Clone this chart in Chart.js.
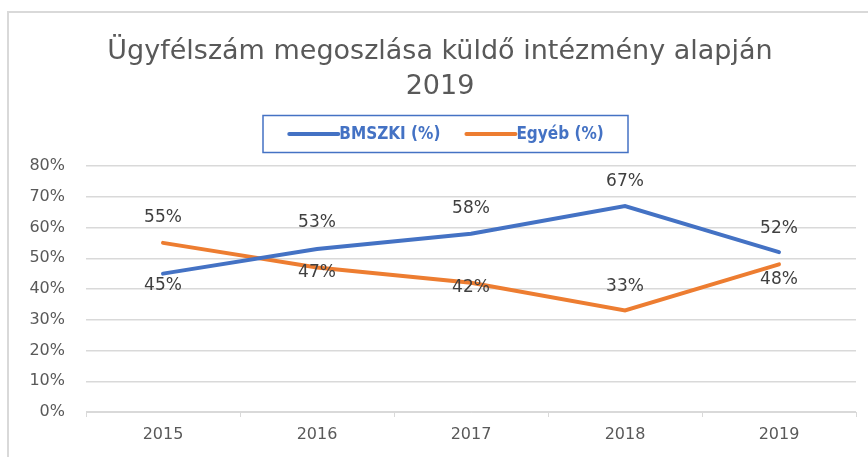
<!DOCTYPE html>
<html>
<head>
<meta charset="utf-8">
<script src="https://cdn.jsdelivr.net/npm/chart.js@4"></script>
<style>
  html, body { margin: 0; padding: 0; background: #fff; }
  #wrap { width: 868px; height: 457px; }
</style>
</head>
<body>
<div id="wrap"><canvas id="chart" width="868" height="457"></canvas></div>
<script>
const years = ['2015', '2016', '2017', '2018', '2019'];
const bmszki = [45, 53, 58, 67, 52];
const egyeb = [55, 47, 42, 33, 48];
const titleLines = ['Ügyfélszám megoszlása küldő intézmény alapján', '2019'];

const blue = '#4472c4';
const orange = '#ed7d31';
const grid = '#d9d9d9';

// frame round the chart, like the excel chart area
const framePlugin = {
    id: 'frame',
    beforeDraw(chart) {
        const ctx = chart.ctx;
        ctx.save();
        ctx.strokeStyle = grid;
        ctx.lineWidth = 2;
        ctx.beginPath();
        ctx.moveTo(8, chart.height);
        ctx.lineTo(8, 12);
        ctx.lineTo(chart.width, 12);
        ctx.stroke();
        ctx.restore();
    }
};

// boxed legend below the title
const boxLegend = {
    id: 'boxLegend',
    afterDraw(chart) {
        const ctx = chart.ctx;
        const box = { left: 263, top: 115.5, right: 628, bottom: 152.5 };
        ctx.save();
        ctx.strokeStyle = blue;
        ctx.lineWidth = 1.5;
        ctx.strokeRect(box.left, box.top, box.right - box.left, box.bottom - box.top);

        ctx.font = 'bold 17px "DejaVu Sans Condensed", "DejaVu Sans"';
        const lineLen = 52, gap = 24;
        const items = chart.data.datasets.map(ds => ({
            label: ds.label, color: ds.borderColor, w: ctx.measureText(ds.label).width
        }));
        let total = 0;
        items.forEach((it, i) => { total += lineLen + it.w + (i ? gap : 0); });
        let x = (box.left + box.right) / 2 - total / 2;
        const y = (box.top + box.bottom) / 2;
        items.forEach(it => {
            ctx.strokeStyle = it.color;
            ctx.lineWidth = 4;
            ctx.lineCap = 'round';
            ctx.beginPath();
            ctx.moveTo(x + 2, y);
            ctx.lineTo(x + lineLen - 1, y);
            ctx.stroke();
            ctx.fillStyle = blue;
            ctx.textAlign = 'left';
            ctx.textBaseline = 'middle';
            ctx.fillText(it.label, x + lineLen, y + 1);
            x += lineLen + it.w + gap;
        });
        ctx.restore();
    }
};

// value labels next to each point
const pointLabels = {
    id: 'pointLabels',
    afterDatasetsDraw(chart) {
        const ctx = chart.ctx;
        ctx.save();
        ctx.font = '17px "DejaVu Sans"';
        ctx.fillStyle = '#404040';
        ctx.textAlign = 'center';
        ctx.textBaseline = 'middle';
        chart.data.datasets.forEach((ds, i) => {
            chart.getDatasetMeta(i).data.forEach((pt, j) => {
                ctx.fillText(ds.data[j] + '%', pt.x, pt.y + ds.labelOffset[j]);
            });
        });
        ctx.restore();
    }
};

new Chart(document.getElementById('chart'), {
    type: 'line',
    data: {
        labels: years,
        datasets: [{
            label: 'BMSZKI (%)',
            data: bmszki,
            borderColor: blue,
            backgroundColor: blue,
            borderWidth: 4,
            pointRadius: 0,
            borderCapStyle: 'round',
            labelOffset: [12, -26, -25, -24, -24]
        }, {
            label: 'Egyéb (%)',
            data: egyeb,
            borderColor: orange,
            backgroundColor: orange,
            borderWidth: 4,
            pointRadius: 0,
            borderCapStyle: 'round',
            labelOffset: [-25, 5, 5, -24, 15]
        }]
    },
    options: {
        responsive: false,
        animation: false,
        layout: { padding: { left: 24, right: 12, top: 0, bottom: 0 } },
        plugins: {
            legend: { display: false },
            tooltip: { enabled: false },
            title: {
                display: true,
                text: titleLines,
                color: '#595959',
                font: { family: '"DejaVu Sans"', size: 27, weight: 'normal', lineHeight: 1.3 },
                padding: { top: 34.5, bottom: 61.3 }
            }
        },
        scales: {
            x: {
                offset: true,
                grid: {
                    offset: true,
                    drawOnChartArea: false,
                    drawTicks: true,
                    tickLength: 5,
                    color: grid
                },
                border: { display: true, color: grid, width: 1 },
                ticks: {
                    color: '#595959',
                    font: { family: '"DejaVu Sans"', size: 16 },
                    padding: 8
                },
                afterFit(s) { s.height = 45; }
            },
            y: {
                min: 0,
                max: 80,
                ticks: {
                    stepSize: 10,
                    color: '#595959',
                    font: { family: '"DejaVu Sans"', size: 16 },
                    padding: 21,
                    callback: v => v + '%'
                },
                grid: { color: grid, drawTicks: false, lineWidth: 1.5 },
                border: { display: false },
                afterFit(s) { s.width = 62; }
            }
        }
    },
    plugins: [framePlugin, boxLegend, pointLabels]
});
</script>
</body>
</html>
